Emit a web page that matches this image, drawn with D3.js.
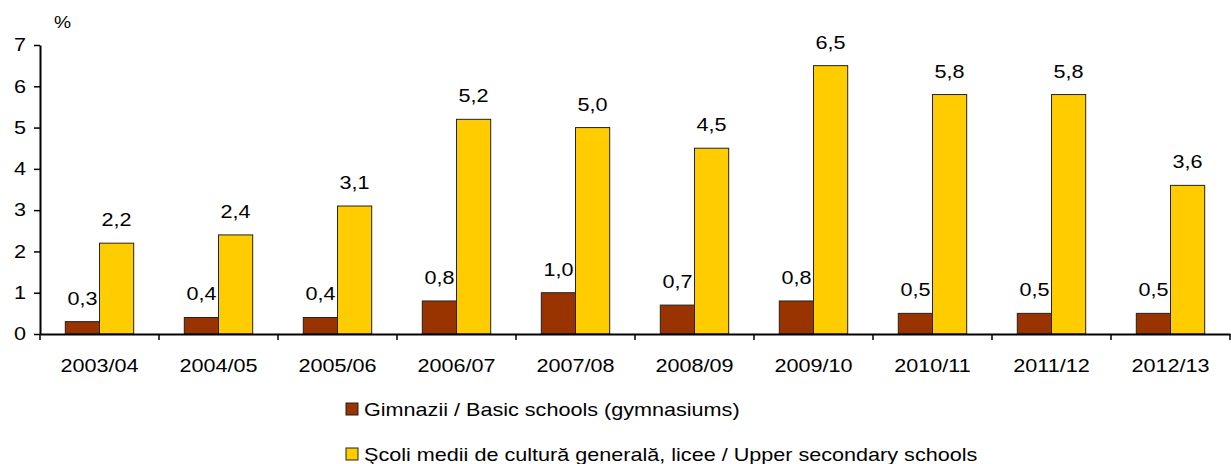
<!DOCTYPE html>
<html>
<head>
<meta charset="utf-8">
<script src="https://cdn.jsdelivr.net/npm/d3@7"></script>
<style>
  html, body { margin: 0; padding: 0; background: #fff; }
  svg { display: block; font-family: "Liberation Sans", Arial, sans-serif; }
</style>
</head>
<body>
<svg id="chart" width="1231" height="464"></svg>
<script>
const categories = ["2003/04","2004/05","2005/06","2006/07","2007/08","2008/09","2009/10","2010/11","2011/12","2012/13"];
const seriesNames = ["Gimnazii / Basic schools (gymnasiums)", "Şcoli medii de cultură generală, licee / Upper secondary schools"];
const basicValues = [0.3, 0.4, 0.4, 0.8, 1.0, 0.7, 0.8, 0.5, 0.5, 0.5];
const upperValues = [2.2, 2.4, 3.1, 5.2, 5.0, 4.5, 6.5, 5.8, 5.8, 3.6];
const yTicks = [0, 1, 2, 3, 4, 5, 6, 7];
const colors = ["#993300", "#FFCC00"];

const SX = 1.2;      // horizontal text stretch seen in the reference
const FS = 18;

const svg = d3.select("#chart");
const mLeft = 40, mRight = 1230, mTop = 45, mBottom = 334;

const x0 = d3.scaleBand().domain(categories).range([mLeft, mRight]).paddingInner(0).paddingOuter(0);
const x1 = d3.scaleBand().domain([0, 1]).range([0, x0.bandwidth()]).paddingInner(0).paddingOuter(0.74);
const y = d3.scaleLinear().domain([0, 7]).range([mBottom, mTop]);

const seriesValues = [basicValues, upperValues];

function stretch(sel) {
  sel.each(function () {
    const t = d3.select(this);
    const xv = +t.attr("x") || 0;
    t.attr("x", xv / SX).attr("transform", `scale(${SX},1)`);
  });
}

// bars
const groups = svg.append("g").selectAll("g")
  .data(categories).join("g")
  .attr("transform", d => `translate(${x0(d)},0)`);

groups.selectAll("rect")
  .data((d, i) => seriesValues.map((vals, s) => ({ s, v: vals[i] })))
  .join("rect")
  .attr("x", d => x1(d.s))
  .attr("y", d => y(d.v))
  .attr("width", x1.bandwidth())
  .attr("height", d => y(0) - y(d.v))
  .attr("fill", d => colors[d.s])
  .attr("stroke", "#222")
  .attr("stroke-width", 1);

// value labels
const fmt = v => v.toFixed(1).replace(".", ",");
groups.selectAll("text.val")
  .data((d, i) => seriesValues.map((vals, s) => ({ s, v: vals[i] })))
  .join("text")
  .attr("class", "val")
  .attr("font-size", FS)
  .attr("text-anchor", "middle")
  .attr("fill", "#000")
  .attr("transform", d => `translate(${x1(d.s) + x1.bandwidth() / 2},${y(d.v) - 17}) scale(${SX},1)`)
  .text(d => fmt(d.v));

// y axis
const yAxis = svg.append("g")
  .attr("transform", `translate(${mLeft},0)`)
  .call(d3.axisLeft(y).tickValues(yTicks).tickSizeInner(6).tickSizeOuter(0).tickPadding(8).tickFormat(d3.format("d")));
yAxis.attr("font-family", null).attr("font-size", null);
yAxis.select(".domain").attr("stroke", "#000").attr("stroke-width", 2);
yAxis.selectAll(".tick line").attr("stroke", "#000").attr("stroke-width", 1.5);
yAxis.selectAll("text").attr("font-size", FS).attr("fill", "#000");
stretch(yAxis.selectAll("text"));

// x axis (labels centered on bands)
const xAxis = svg.append("g")
  .attr("transform", `translate(0,${mBottom})`)
  .call(d3.axisBottom(x0).tickSizeInner(0).tickSizeOuter(0).tickPadding(25));
xAxis.attr("font-family", null).attr("font-size", null);
xAxis.select(".domain").attr("stroke", "#000").attr("stroke-width", 2);
xAxis.selectAll("text").attr("font-size", FS).attr("fill", "#000");
stretch(xAxis.selectAll("text"));

// boundary tick marks
const boundaries = categories.map(c => x0(c)).concat([x0.range()[1]]);
svg.append("g").selectAll("line")
  .data(boundaries).join("line")
  .attr("x1", d => d).attr("x2", d => d)
  .attr("y1", mBottom).attr("y2", mBottom + 6)
  .attr("stroke", "#000").attr("stroke-width", 1.5);

// unit label
svg.append("text")
  .attr("font-size", 16)
  .attr("transform", `translate(54,28) scale(${SX},1)`)
  .text("%");

// legend
const legend = svg.append("g").selectAll("g")
  .data(seriesNames).join("g")
  .attr("transform", (d, i) => `translate(346,${403 + i * 45})`);
legend.append("rect")
  .attr("width", 12).attr("height", 12)
  .attr("fill", (d, i) => colors[i])
  .attr("stroke", "#222").attr("stroke-width", 1);
legend.append("text")
  .attr("font-size", FS)
  .attr("transform", `translate(18,13) scale(${SX},1)`)
  .text(d => d);
</script>
</body>
</html>
